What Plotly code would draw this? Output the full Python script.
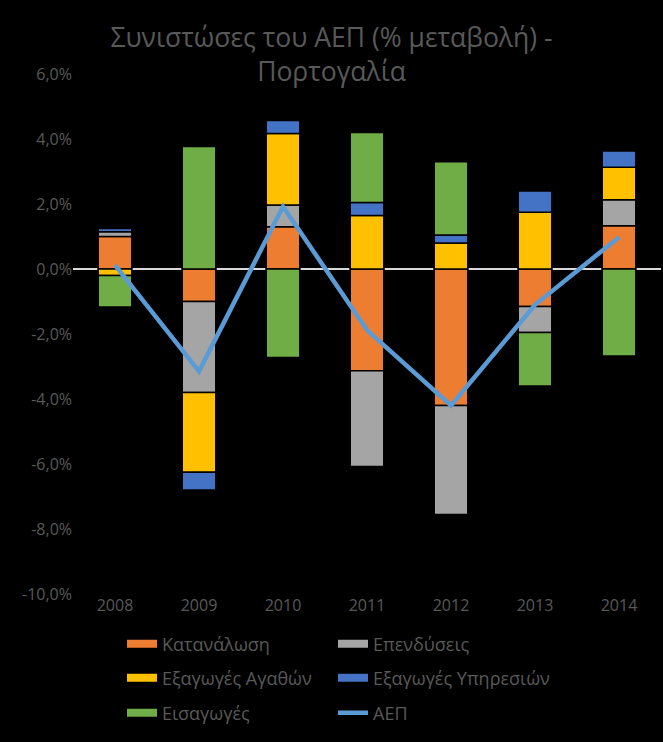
import plotly.graph_objects as go

years = ["2008", "2009", "2010", "2011", "2012", "2013", "2014"]
consumption = [1.0, -1.0, 1.3, -3.13, -4.2, -1.15, 1.33]
investment = [0.15, -2.8, 0.67, -2.95, -3.35, -0.8, 0.8]
exports_goods = [-0.2, -2.45, 2.2, 1.65, 0.8, 1.75, 1.0]
exports_services = [0.1, -0.55, 0.4, 0.4, 0.25, 0.65, 0.5]
imports = [-0.97, 3.77, -2.72, 2.15, 2.25, -1.65, -2.68]
gdp = [0.12, -3.15, 1.92, -1.88, -4.2, -1.1, 0.98]

names = ["Κατανάλωση", "Επενδύσεις", "Εξαγωγές Αγαθών", "Εξαγωγές Υπηρεσιών", "Εισαγωγές"]
colors = ["#ED7D31", "#A5A5A5", "#FFC000", "#4472C4", "#70AD47"]
series = [consumption, investment, exports_goods, exports_services, imports]
gdp_name = "ΑΕΠ"
gdp_color = "#5B9BD5"

tick_vals = [-10, -8, -6, -4, -2, 0, 2, 4, 6]
tick_text = ["-10,0%", "-8,0%", "-6,0%", "-4,0%", "-2,0%", "0,0%", "2,0%", "4,0%", "6,0%"]

FONT = "Open Sans"
TXT = "#595959"

fig = go.Figure()
for n, c, s in zip(names, colors, series):
    fig.add_trace(go.Bar(x=years, y=s, name=n, marker=dict(color=c, line=dict(color="black", width=1.5)),
                         showlegend=False))
fig.add_trace(go.Scatter(x=years, y=gdp, name=gdp_name, mode="lines",
                         line=dict(color=gdp_color, width=4.5), showlegend=False))

# legend entries (one legend per entry for exact placement)
pos = [(0, 0), (1, 0), (0, 1), (1, 1), (0, 2), (1, 2)]
legend_ids = ["legend", "legend2", "legend3", "legend4", "legend5", "legend6"]
row_y = [644, 678, 713]
col_x = [122, 333]
H = 742
plot_top, plot_bot = 74, 594
L, R = 73, 2
W = 663
pw = W - L - R
ph = plot_bot - plot_top

all_names = names + [gdp_name]
all_colors = colors + [gdp_color]
layout_legends = {}
for i, (n, c) in enumerate(zip(all_names, all_colors)):
    lid = legend_ids[i]
    col, row = pos[i]
    fig.add_trace(go.Scatter(x=[None], y=[None], mode="lines", name=n,
                             line=dict(color=c, width=8 if i < 5 else 4.5),
                             legend=lid, showlegend=True))
    layout_legends[lid] = dict(
        x=(col_x[col] - L) / pw, xanchor="left",
        y=(plot_bot - row_y[row]) / ph, yanchor="middle",
        bgcolor="rgba(0,0,0,0)", font=dict(family=FONT, size=18, color=TXT),
        orientation="h",
    )

fig.update_layout(
    width=W, height=H,
    paper_bgcolor="black", plot_bgcolor="black",
    barmode="relative", bargap=0.6,
    margin=dict(l=L, r=R, t=plot_top, b=H - plot_bot),
    title=dict(text="Συνιστώσες του ΑΕΠ (% μεταβολή) -<br>Πορτογαλία",
               x=0.5, xanchor="center", y=1 - 47 / H, yanchor="top", yref="container",
               font=dict(family=FONT, size=26.5, color=TXT)),
    xaxis=dict(showgrid=False, showline=False, zeroline=False, ticks="",
               tickfont=dict(family=FONT, size=16, color=TXT)),
    yaxis=dict(range=[-10, 6], showgrid=False, showline=False, zeroline=True,
               zerolinecolor="#D9D9D9", zerolinewidth=2,
               tickvals=tick_vals, ticktext=tick_text, ticks="",
               tickfont=dict(family=FONT, size=16, color=TXT)),
    **layout_legends,
)

fig.write_html("out.html", config={"displayModeBar": False},
               post_script="document.body.style.margin='0';document.body.style.background='black';")
